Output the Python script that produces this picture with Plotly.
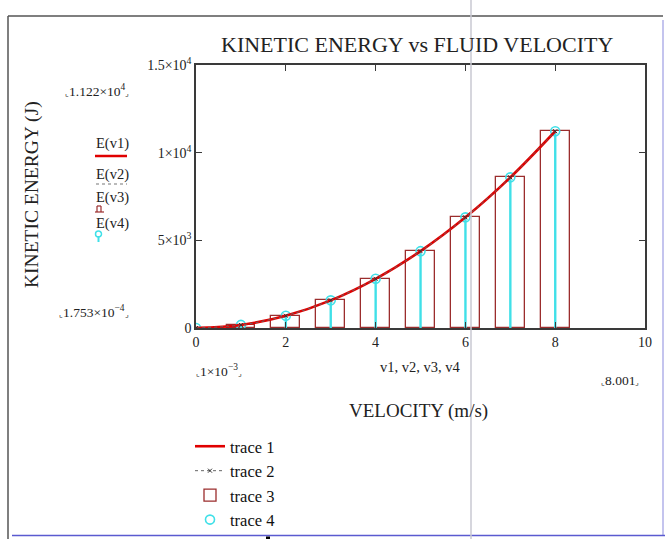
import plotly.graph_objects as go

# ---- data ----
velocity = [0.001, 1.001, 2.001, 3.001, 4.001, 5.001, 6.001, 7.001, 8.001]
energy = [0.0001753, 175.6, 702.3, 1578.0, 2806.0, 4384.0, 6312.0, 8591.0, 11222.0]
trace_names = ["trace 1", "trace 2", "trace 3", "trace 4"]
x_tick_vals = [0, 2, 4, 6, 8, 10]
y_tick_vals = [0, 5000, 10000, 15000]
y_tick_text = ["0", "5×10<sup>3</sup>", "1×10<sup>4</sup>", "1.5×10<sup>4</sup>"]
title_text = "KINETIC ENERGY vs FLUID VELOCITY"

W, H = 665, 539
L, R, T, B = 196, 645, 65, 328  # plot area in pixels
FONT = "Liberation Serif"


def px(x):
    return (x - L) / (R - L)


def py(y):
    return (B - y) / (B - T)


fig = go.Figure()

# bars (trace 3) drawn first, behind
fig.add_trace(go.Bar(
    x=velocity, y=energy, name=trace_names[2], width=0.64,
    marker=dict(color="rgba(0,0,0,0)", line=dict(color="#9b2d2d", width=1.3)),
    legendrank=3,
))
# stems (trace 4)
fig.add_trace(go.Scatter(
    x=velocity, y=energy, name=trace_names[3], mode="markers",
    marker=dict(symbol="circle-open", size=9, color="#40e0e8", line=dict(width=1.6)),
    error_y=dict(type="data", symmetric=False, array=[0] * len(energy),
                 arrayminus=energy, color="#40e0e8", thickness=2.4, width=0),
    legendrank=4,
))
# curve (trace 1)
fig.add_trace(go.Scatter(
    x=velocity, y=energy, name=trace_names[0], mode="lines",
    line=dict(color="#e00000", width=2.6, shape="spline"),
    legendrank=1,
))
# dotted (trace 2)
fig.add_trace(go.Scatter(
    x=velocity, y=energy, name=trace_names[1], mode="lines+markers",
    line=dict(color="#666666", width=1, dash="dot", shape="spline"),
    marker=dict(symbol="x-thin", size=4, color="#333333", line=dict(width=1, color="#333333")),
    legendrank=2,
))

axis_common = dict(
    showline=True, linecolor="#3a3a3a", linewidth=1.5, mirror="ticks",
    ticks="inside", ticklen=6, tickwidth=1.2, tickcolor="#3a3a3a",
    showgrid=False, zeroline=False,
    tickfont=dict(family=FONT, size=14, color="#222"),
)

fig.update_layout(
    width=W, height=H,
    margin=dict(l=L, r=W - R, t=T, b=H - B, autoexpand=False),
    paper_bgcolor="white", plot_bgcolor="white",
    font=dict(family=FONT, color="#222"),
    xaxis=dict(range=[0, 10], tickvals=x_tick_vals, **axis_common),
    yaxis=dict(range=[0, 15000], tickvals=y_tick_vals, ticktext=y_tick_text, **axis_common),
    showlegend=True,
    legend=dict(x=px(190), y=py(429), xanchor="left", yanchor="top",
                font=dict(family=FONT, size=16.5, color="#111"),
                bgcolor="rgba(0,0,0,0)", tracegroupgap=0, itemwidth=30),
    bargap=0,
)

ann = []


def add_text(text, x, y, size=14, xanchor="center", yanchor="middle", textangle=0):
    ann.append(dict(text=text, x=px(x), y=py(y), xref="paper", yref="paper",
                    showarrow=False, xanchor=xanchor, yanchor=yanchor,
                    textangle=textangle, font=dict(family=FONT, size=size, color="#222")))


mk_l = "<span style='font-size:8px'>⌞</span>"
mk_r = "<span style='font-size:8px'>⌟</span>"

add_text(title_text, 417, 44, size=22)
add_text("KINETIC ENERGY (J)", 32, 195, size=19.5, textangle=-90)
add_text(mk_l + "1.122×10<sup>4</sup>" + mk_r, 97, 90, size=13.5)
add_text(mk_l + "1.753×10<sup>−4</sup>" + mk_r, 94, 311, size=13.5)
add_text("E(v1)", 112, 143, size=14.5)
add_text("E(v2)", 112, 174, size=14.5)
add_text("E(v3)", 112, 197, size=14.5)
add_text("E(v4)", 112, 223, size=14.5)
add_text(mk_l + "1×10<sup>−3</sup>" + mk_r, 219, 370, size=13.5)
add_text("v1, v2, v3, v4", 420, 367, size=14.5)
add_text(mk_l + "8.001" + mk_r, 620, 380, size=13.5)
add_text("VELOCITY (m/s)", 418, 411, size=19)

shapes = []


def add_line(x0, y0, x1, y1, color, width, dash="solid"):
    shapes.append(dict(type="line", xref="paper", yref="paper",
                       x0=px(x0), y0=py(y0), x1=px(x1), y1=py(y1),
                       line=dict(color=color, width=width, dash=dash)))


# small legend-like symbols beside E(v) labels
add_line(95, 156, 127, 156, "#e00000", 2.5)
add_line(96, 184, 127, 184, "#777777", 1.2, dash="dot")
add_line(95, 212, 104, 212, "#9b2d2d", 1.2)
add_line(97, 212, 97, 206, "#9b2d2d", 1.2)
add_line(101, 212, 101, 206, "#9b2d2d", 1.2)
add_line(97, 206, 101, 206, "#9b2d2d", 1.2)
add_line(98.5, 242, 98.5, 236, "#40e0e8", 2)
shapes.append(dict(type="circle", xref="paper", yref="paper",
                   x0=px(95.5), x1=px(101.5), y0=py(237), y1=py(231),
                   line=dict(color="#40e0e8", width=1.5)))

# outer frame
add_line(8, 16, 8, 539, "#555555", 1.5)
add_line(8, 16, 663, 16, "#555555", 1.5)
add_line(663, 20, 663, 536, "#b0b0e8", 1.5)
add_line(12, 535.5, 665, 535.5, "#5a5ad0", 1.5)
# light vertical cursor line
add_line(471, 0, 471, 539, "#c8c8d2", 1.5)
shapes.append(dict(type="rect", xref="paper", yref="paper",
                   x0=px(266), x1=px(270), y0=py(536.5), y1=py(539),
                   fillcolor="black", line=dict(width=0)))

fig.update_layout(annotations=ann, shapes=shapes)

fig.write_html("out.html")
